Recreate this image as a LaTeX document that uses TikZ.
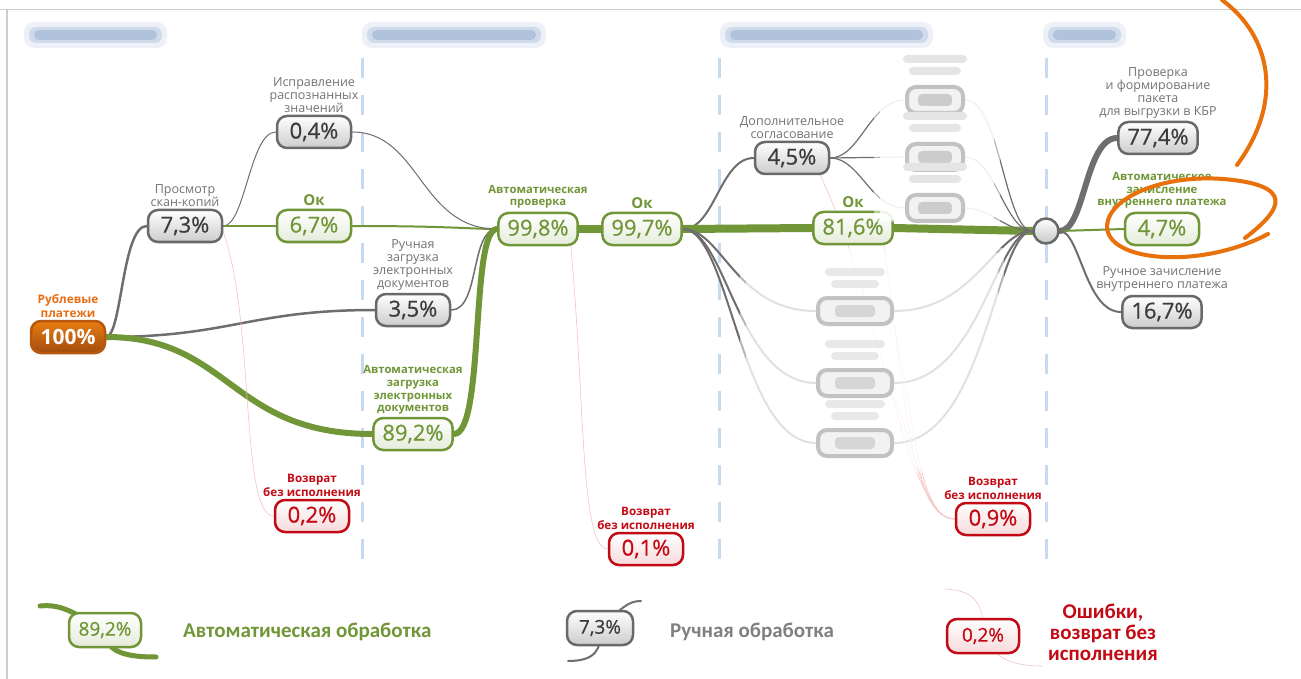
\documentclass[tikz,border=0pt]{standalone}
\usepackage{fontspec}
\setmainfont{Open Sans}
\newfontfamily\lgfont{Carlito}
\newfontfamily\numfont[FakeBold=0.7]{Open Sans}
\pgfdeclarelayer{background}
\pgfdeclarelayer{fg}
\pgfsetlayers{background,main,fg}
\definecolor{cgreen}{RGB}{112,150,56}
\definecolor{cgline}{RGB}{110,110,110}
\definecolor{cbord}{RGB}{105,105,105}
\definecolor{ctext}{RGB}{60,60,60}
\definecolor{clbl}{RGB}{115,115,115}
\definecolor{cred}{RGB}{195,10,20}
\definecolor{cpink}{RGB}{245,195,195}
\definecolor{corange}{RGB}{230,110,20}
\definecolor{cscrib}{RGB}{232,113,12}
\definecolor{cdash}{RGB}{200,218,240}
\definecolor{chdr}{RGB}{140,165,205}
\definecolor{cframe}{RGB}{205,205,205}
\begin{document}
\begin{tikzpicture}[x=1pt,y=-1pt,
  pbox/.style={rounded corners=10pt, line width=2.5pt, minimum width=74pt, minimum height=32pt, inner xsep=9pt, inner ysep=0pt, font=\numfont\fontsize{22}{22}\selectfont},
  gbox/.style={pbox, draw=cbord, top color=white, bottom color=black!20, text=ctext},
  grbox/.style={pbox, draw=cgreen, top color=white, bottom color=cgreen!18, text=cgreen},
  rbox/.style={pbox, draw=cred, top color=white, bottom color=cred!15, text=cred},
  obox/.style={pbox, draw=corange!80!black, top color=corange!90!yellow, bottom color=corange!70!black, text=white, font=\bfseries\fontsize{21}{21}\selectfont},
  lsmall/.style={minimum width=72pt, minimum height=34pt, font=\numfont\fontsize{19}{19}\selectfont, inner xsep=6pt},
  lblg/.style={anchor=south, align=center, inner sep=0pt, text=clbl, font=\fontsize{12.5}{13}\selectfont},
  lblgr/.style={lblg, text=cgreen, font=\bfseries\fontsize{11.3}{12.8}\selectfont},
  lblr/.style={lblg, text=cred, font=\bfseries\fontsize{11.6}{13.5}\selectfont},
  lblo/.style={lblg, text=corange, font=\bfseries\fontsize{11.8}{14}\selectfont},
  oklbl/.style={lblg, text=cgreen, font=\bfseries\fontsize{15}{15}\selectfont},
  jnode/.style={circle, draw=cbord, line width=2.5pt, top color=white, bottom color=black!22, minimum size=25pt, inner sep=0pt},
  bnode/.style={rounded corners=9pt, draw=black!24, line width=4pt, fill=black!5, minimum width=#1, minimum height=26pt, inner sep=0pt},
  gl/.style={draw=cgline, line cap=round},
  al/.style={draw=cgreen, line cap=round},
  el/.style={draw=cpink, line width=0.6pt},
  dashln/.style={draw=cdash, line width=3pt, dash pattern=on 20pt off 17pt},
  frameln/.style={draw=cframe, line width=1.5pt},
  legtxt/.style={anchor=west, inner sep=0pt, font=\lgfont\bfseries\fontsize{21}{21}\selectfont}
]
\useasboundingbox (0,0) rectangle (1301,679);

% ---------- blurred nodes (foreground) ----------
\begin{pgfonlayer}{fg}
\node[bnode=56pt] (T1) at (935,100) {};
\node[bnode=56pt] (T2) at (935,157) {};
\node[bnode=56pt] (T3) at (935,208) {};
\node[bnode=74pt] (B1) at (855,311) {};
\node[bnode=74pt] (B2) at (855,383) {};
\node[bnode=74pt] (B3) at (855,443) {};
\foreach \n in {T1,T2,T3}{
  \fill[black!20, rounded corners=4pt] (\n.center) ++(-17,-6) rectangle ++(34,12);
  \fill[black!10, rounded corners=4pt] (\n.north) ++(-32,-30) rectangle ++(64,8);
  \fill[black!10, rounded corners=4pt] (\n.north) ++(-26,-18) rectangle ++(52,8);
}
\foreach \n in {B1,B2,B3}{
  \fill[black!16, rounded corners=4pt] (\n.center) ++(-20,-6) rectangle ++(40,12);
  \fill[black!9, rounded corners=4pt] (\n.north) ++(-30,-28) rectangle ++(60,8);
  \fill[black!9, rounded corners=4pt] (\n.north) ++(-24,-16) rectangle ++(48,8);
}
\end{pgfonlayer}

% ---------- main nodes ----------
\node[obox] (n100) at (68,337) {100\%};
\node[lblo] (l100) at ([yshift=2pt]n100.north) {Рублевые\\платежи};

\node[gbox] (n73) at (185,226) {7,3\%};
\node[lblg] (l73) at ([yshift=2pt]n73.north) {Просмотр\\скан-копий};

\node[grbox] (n67) at (314,226) {6,7\%};
\node[oklbl] (l67) at ([yshift=3pt]n67.north) {Ок};

\node[gbox] (n04) at (314,132) {0,4\%};
\node[lblg] (l04) at ([yshift=2pt]n04.north) {Исправление\\распознанных\\значений};

\node[gbox] (n35) at (413,310) {3,5\%};
\node[lblg] (l35) at ([yshift=2pt]n35.north) {Ручная\\загрузка\\электронных\\документов};

\node[grbox] (n892) at (413,434) {89,2\%};
\node[lblgr] (l892) at ([yshift=2pt]n892.north) {Автоматическая\\загрузка\\электронных\\документов};

\node[rbox] (n02) at (312,516) {0,2\%};
\node[lblr] (l02) at ([yshift=2pt]n02.north) {Возврат\\без исполнения};

\node[grbox] (n998) at (538,229) {99,8\%};
\node[lblgr] (l998) at ([yshift=3pt]n998.north) {Автоматическая\\проверка};

\node[grbox] (n997) at (642,229) {99,7\%};
\node[oklbl] (l997) at ([yshift=3pt]n997.north) {Ок};

\node[rbox] (n01) at (646,549) {0,1\%};
\node[lblr] (l01) at ([yshift=2pt]n01.north) {Возврат\\без исполнения};

\node[gbox] (n45) at (792,158) {4,5\%};
\node[lblg] (l45) at ([yshift=2pt]n45.north) {Дополнительное\\согласование};

\node[grbox] (n816) at (853,228) {81,6\%};
\node[oklbl] (l816) at ([yshift=3pt]n816.north) {Ок};

\node[rbox] (n09) at (993,519) {0,9\%};
\node[lblr] (l09) at ([yshift=2pt]n09.north) {Возврат\\без исполнения};

\node[jnode] (jn) at (1046,231) {};

\node[gbox] (n774) at (1158,138) {77,4\%};
\node[lblg] (l774) at ([yshift=2pt]n774.north) {Проверка\\и формирование\\пакета\\для выгрузки в КБР};

\node[grbox] (n47) at (1162,229) {4,7\%};
\node[lblgr] (l47) at ([yshift=3pt]n47.north) {Автоматическое\\зачисление\\внутреннего платежа};

\node[gbox] (n167) at (1162,312) {16,7\%};
\node[lblg] (l167) at ([yshift=3pt]n167.north) {Ручное зачисление\\внутреннего платежа};

% ---------- legend ----------
\node[grbox, lsmall] (lg892) at (105,630) {89,2\%};
\node[legtxt, text=cgreen] (lt1) at (183,632) {Автоматическая обработка};
\node[gbox, lsmall, minimum width=66pt] (lg73) at (600,628) {7,3\%};
\node[legtxt, text=black!50] (lt2) at (670,632) {Ручная обработка};
\node[rbox, lsmall] (lg02) at (983,636) {0,2\%};
\node[legtxt, anchor=center, align=center, text=cred] (lt3) at (1103,632) {Ошибки,\\возврат без\\исполнения};
\coordinate (la) at (40,606);
\coordinate (lb) at (156,657);
\coordinate (lc) at (641,601);
\coordinate (ld) at (568,661);
\coordinate (le) at (945,589);
\coordinate (lf) at (1042,666);

% ---------- blur overlays ----------
\fill[white, opacity=0.5] (874,50) rectangle (1000,222);
\fill[white, opacity=0.8] (880,55) rectangle (994,220);
\fill[white, opacity=0.5] (740,248) rectangle (1004,472);
\fill[white, opacity=0.6] (746,253) rectangle (998,467);

% ---------- background: frame, headers, dashes, connectors ----------
\begin{pgfonlayer}{background}
\fill[white] (0,0) rectangle (1301,679);
\draw[frameln] (0,9.5) -- (1301,9.5);
\draw[frameln] (7,9.5) -- (7,679);
\foreach \xa/\xb in {31/160,369/539,727/926,1050/1119}{
  \fill[chdr, opacity=0.15, rounded corners=10pt] (\xa-7,22) rectangle (\xb+7,48);
  \fill[chdr, opacity=0.3, rounded corners=7pt] (\xa-2,27) rectangle (\xb+2,43);
  \fill[chdr, opacity=0.45, rounded corners=5pt] (\xa+3,30) rectangle (\xb-3,40);
}
\foreach \x in {362,719,1046}{ \draw[dashln] (\x,58) -- (\x,566); }

% verification
\draw[gl, line width=2.5pt] (n100.east) .. controls (122,335) and (122,226) .. (n73.west);
\draw[gl, line width=2.5pt] (n100.east) .. controls (230,337) and (250,310) .. (n35.west);
\draw[al, line width=6pt] (n100.east) .. controls (230,337) and (230,434) .. (n892.west);
\draw[gl, line width=1pt] (n73.east) .. controls (245,226) and (250,132) .. (n04.west);
\draw[al, line width=2pt] (n73.east) -- (n67.west);
\draw[el] ([yshift=-6pt]n73.east) .. controls (255,320) and (240,516) .. (n02.west);
% loading
\draw[al, line width=2pt] (n67.east) .. controls (450,226) and (470,229) .. (n998.west);
\draw[gl, line width=1pt] (n04.east) .. controls (420,132) and (420,229) .. (n998.west);
\draw[gl, line width=1.5pt] (n35.east) .. controls (480,310) and (470,229) .. (n998.west);
\draw[al, line width=6pt] (n892.east) .. controls (485,434) and (470,229) .. (n998.west);
\draw[al, line width=8pt] (n998.east) -- (n997.west);
\draw[el] ([xshift=-8pt]n998.south east) .. controls (585,400) and (580,549) .. (n01.west);
% payment
\draw[gl, line width=2pt] (n997.east) .. controls (715,229) and (720,158) .. (n45.west);
\draw[al, line width=8pt] (n997.east) -- (n816.west);
\draw[gl, line width=2pt] (n997.east) .. controls (722,229) and (735,311) .. (B1.west);
\draw[gl, line width=2pt] (n997.east) .. controls (726,229) and (738,383) .. (B2.west);
\draw[gl, line width=2pt] (n997.east) .. controls (730,229) and (740,443) .. (B3.west);
\draw[gl, line width=1.2pt] (n45.east) .. controls (860,158) and (870,100) .. (T1.west);
\draw[gl, line width=1.2pt] (n45.east) -- (T2.west);
\draw[gl, line width=1.2pt] (n45.east) .. controls (860,158) and (870,208) .. (T3.west);
\draw[al, line width=8pt] (n816.east) -- (jn.west);
\draw[gl, line width=1.2pt] (T1.east) .. controls (1000,100) and (1005,231) .. (jn.west);
\draw[gl, line width=1.2pt] (T2.east) .. controls (995,157) and (1005,231) .. (jn.west);
\draw[gl, line width=1.2pt] (T3.east) .. controls (990,208) and (1005,231) .. (jn.west);
\draw[gl, line width=2pt] (B1.east) .. controls (975,311) and (995,231) .. (jn.west);
\draw[gl, line width=2pt] (B2.east) .. controls (980,383) and (995,231) .. (jn.west);
\draw[gl, line width=2pt] (B3.east) .. controls (985,443) and (995,231) .. (jn.west);
\draw[el] ([xshift=-10pt]n45.south east) .. controls (880,300) and (905,519) .. (n09.west);
\draw[el] ([xshift=-10pt]n816.south east) .. controls (905,400) and (912,519) .. (n09.west);
\draw[el] (B1.south east) .. controls (915,420) and (918,519) .. (n09.west);
\draw[el] (B2.south east) .. controls (920,460) and (925,519) .. (n09.west);
% output
\draw[gl, line width=6pt] (jn.east) .. controls (1085,231) and (1085,138) .. (n774.west);
\draw[al, line width=2pt] (jn.east) -- (n47.west);
\draw[gl, line width=2pt] (jn.east) .. controls (1080,231) and (1085,312) .. (n167.west);
% legend curves
\draw[al, line width=5pt] (la) .. controls (62,604) and (72,612) .. (lg892.center);
\draw[al, line width=5pt] (lg892.center) .. controls (105,652) and (125,657) .. (lb);
\draw[gl, line width=2pt] (lc) .. controls (628,601) and (622,608) .. (lg73.center);
\draw[gl, line width=2pt] (lg73.center) .. controls (602,650) and (595,661) .. (ld);
\draw[el] (le) .. controls (975,590) and (985,605) .. (lg02.center);
\draw[el] (lg02.center) .. controls (995,660) and (1015,666) .. (lf);
\end{pgfonlayer}

% ---------- hand-drawn orange marks ----------
\begin{pgfonlayer}{fg}
\draw[cscrib, line width=4pt, line cap=round] (1222,0) .. controls (1270,35) and (1285,100) .. (1237,165);
\draw[cscrib, line width=4pt, line cap=round] (1245,238) .. controls (1275,215) and (1300,188) .. (1233,180) .. controls (1170,172) and (1110,195) .. (1107,225) .. controls (1105,262) and (1200,270) .. (1268,234);
\end{pgfonlayer}
\end{tikzpicture}
\end{document}
